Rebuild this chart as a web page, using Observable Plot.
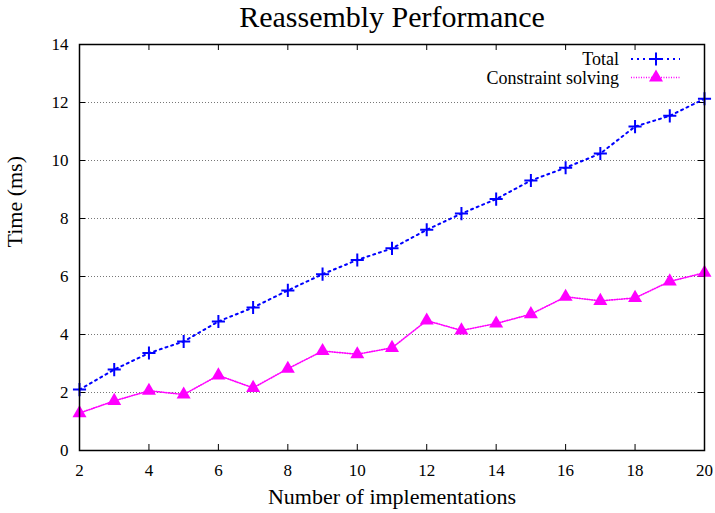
<!DOCTYPE html>
<html>
<head>
<meta charset="utf-8">
<script src="https://cdn.jsdelivr.net/npm/d3@7"></script>
<script src="https://cdn.jsdelivr.net/npm/@observablehq/plot@0.6"></script>
<style>
  html, body { margin: 0; padding: 0; background: #fff; }
  svg { font-family: "Liberation Serif", "Times New Roman", serif; }
</style>
</head>
<body>
<div id="chart"></div>
<script>
const implementations = [2, 3, 4, 5, 6, 7, 8, 9, 10, 11, 12, 13, 14, 15, 16, 17, 18, 19, 20];
const totalMs = [2.10, 2.79, 3.36, 3.76, 4.45, 4.93, 5.52, 6.08, 6.57, 6.97, 7.61, 8.17, 8.67, 9.31, 9.75, 10.24, 11.17, 11.54, 12.13];
const constraintMs = [1.29, 1.71, 2.06, 1.93, 2.59, 2.16, 2.82, 3.43, 3.32, 3.54, 4.48, 4.14, 4.38, 4.70, 5.30, 5.16, 5.26, 5.83, 6.13];
const xTicks = [2, 4, 6, 8, 10, 12, 14, 16, 18, 20];
const yTicks = [0, 2, 4, 6, 8, 10, 12, 14];
const gridValues = [2, 4, 6, 8, 10, 12];
const seriesNames = ["Total", "Constraint solving"];
const titleText = "Reassembly Performance";
const xLabel = "Number of implementations";
const yLabel = "Time (ms)";

const total = implementations.map((x, i) => ({x, y: totalMs[i]}));
const constraint = implementations.map((x, i) => ({x, y: constraintMs[i]}));

const W = 715, H = 513;
const mL = 79, mR = 11, mT = 44, mB = 63;
const frameW = W - mL - mR, frameH = H - mT - mB;
const tickLen = 6;
const plusR = 4.3, triR = 5.2;

const plot = Plot.plot({
  width: W,
  height: H,
  marginLeft: mL,
  marginRight: mR,
  marginTop: mT,
  marginBottom: mB,
  style: {fontFamily: "Liberation Serif, serif", background: "#fff", overflow: "visible"},
  x: {domain: [2, 20]},
  y: {domain: [0, 14]},
  marks: [
    Plot.ruleY(gridValues, {y: d => d, stroke: "#777", strokeWidth: 1, strokeDasharray: "1,2"}),
    Plot.tickX(xTicks, {x: d => d, stroke: "#000", strokeWidth: 1, insetTop: frameH - tickLen}),
    Plot.tickX(xTicks, {x: d => d, stroke: "#000", strokeWidth: 1, insetBottom: frameH - tickLen}),
    Plot.tickY(yTicks, {y: d => d, stroke: "#000", strokeWidth: 1, insetRight: frameW - tickLen}),
    Plot.tickY(yTicks, {y: d => d, stroke: "#000", strokeWidth: 1, insetLeft: frameW - tickLen}),
    Plot.axisX(xTicks, {tickSize: 0, tickPadding: 13, fontSize: 17, label: null, fill: "#000"}),
    Plot.axisY(yTicks, {tickSize: 0, tickPadding: 11, fontSize: 17, label: null, fill: "#000"}),
    Plot.line(constraint, {x: "x", y: "y", stroke: "#ff00ff", strokeWidth: 1.6, strokeDasharray: "1,1.5"}),
    Plot.dot(constraint, {x: "x", y: "y", symbol: "triangle", r: triR, fill: "#ff00ff", stroke: "none"}),
    Plot.line(total, {x: "x", y: "y", stroke: "#0000ff", strokeWidth: 2, strokeDasharray: "2,4"}),
    Plot.dot(total, {x: "x", y: "y", symbol: "plus", r: plusR, stroke: "#0000ff", strokeWidth: 2}),
    Plot.frame({stroke: "#000", strokeWidth: 1.5}),
    Plot.text([titleText], {frameAnchor: "top", dy: -18, lineAnchor: "bottom", fontSize: 30, fill: "#000"}),
    Plot.text([xLabel], {frameAnchor: "bottom", dy: 53, lineAnchor: "bottom", fontSize: 22, fill: "#000"}),
    Plot.text([yLabel], {frameAnchor: "left", dx: -58, rotate: -90, lineAnchor: "bottom", fontSize: 22, fill: "#000"})
  ]
});

document.getElementById("chart").appendChild(plot);

// Legend drawn into the plot's SVG
const svg = d3.select(plot);
const legend = svg.append("g").attr("class", "legend");
const legendRight = W - mR - 85;
const entries = [
  {name: seriesNames[0], color: "#0000ff", dash: "2,4", width: 2, symbol: d3.symbolPlus, size: Math.PI * plusR * plusR, fill: "none", stroke: "#0000ff"},
  {name: seriesNames[1], color: "#ff00ff", dash: "1,1.5", width: 1.6, symbol: d3.symbolTriangle, size: Math.PI * triR * triR, fill: "#ff00ff", stroke: "none"}
];
entries.forEach((e, i) => {
  const cy = mT + 15 + i * 18.5;
  legend.append("text")
    .attr("x", legendRight).attr("y", cy + 6)
    .attr("text-anchor", "end")
    .attr("font-size", 18)
    .attr("fill", "#000")
    .text(e.name);
  legend.append("line")
    .attr("x1", legendRight + 12).attr("x2", legendRight + 61)
    .attr("y1", cy).attr("y2", cy)
    .attr("stroke", e.color).attr("stroke-width", e.width)
    .attr("stroke-dasharray", e.dash);
  legend.append("path")
    .attr("d", d3.symbol(e.symbol, e.size)())
    .attr("transform", `translate(${legendRight + 37},${cy})`)
    .attr("fill", e.fill).attr("stroke", e.stroke).attr("stroke-width", 2);
});
</script>
</body>
</html>
